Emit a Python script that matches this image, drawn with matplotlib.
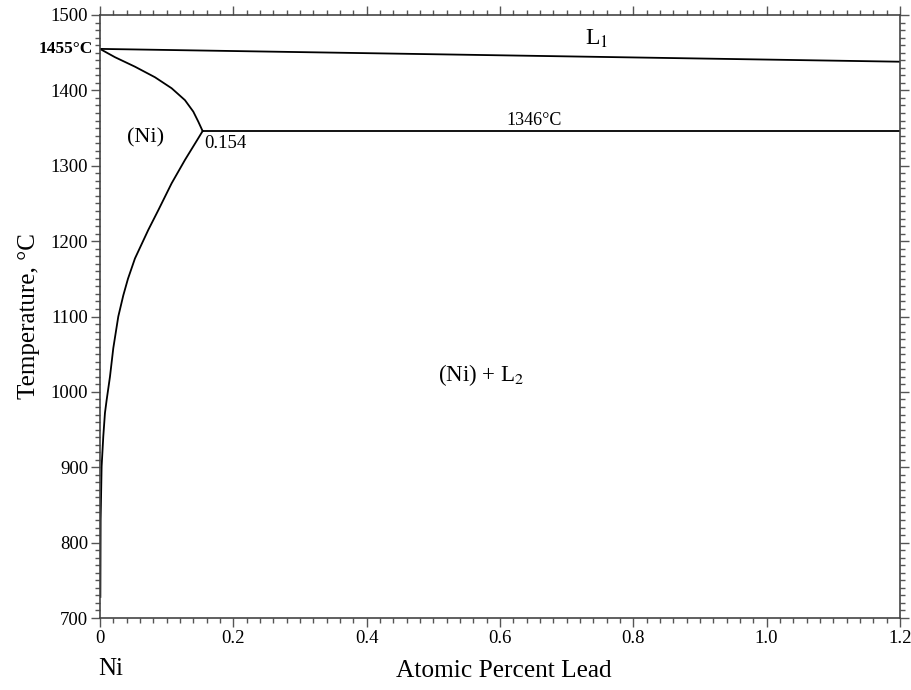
import numpy as np
import matplotlib.pyplot as plt
from matplotlib.ticker import MultipleLocator

plt.rcParams['font.family'] = ['Liberation Serif', 'DejaVu Serif']
plt.rcParams['mathtext.fontset'] = 'stix'

# liquidus L1 (composition in at.% Pb, temperature in C)
liq_x = [0.0, 1.2]
liq_t = [1455, 1438]

# monotectic line
mono_x = [0.154, 1.2]
mono_t = [1346, 1346]

# solidus of (Ni)
sol_x = [0.0, 0.0225, 0.0525, 0.0825, 0.1075, 0.1275, 0.14, 0.1475, 0.154]
sol_t = [1455, 1444, 1431.4, 1417.4, 1402.8, 1387, 1371.8, 1358.5, 1346]

# solvus of (Ni)
solv_x = [0.154, 0.1475, 0.1275, 0.1075, 0.0875, 0.0725, 0.0525, 0.042,
          0.035, 0.0275, 0.02, 0.015, 0.01, 0.0075, 0.005, 0.0025, 0.001,
          0.0006]
solv_t = [1346, 1336.5, 1307.7, 1276.7, 1241, 1214.9, 1177, 1150,
          1128, 1100, 1058, 1020, 989, 972, 941, 901, 830, 728]

fig = plt.figure(figsize=(9.12, 6.9), dpi=100)
ax = fig.add_axes([0.1096, 0.1043, 0.8772, 0.874])

lw = 1.3
ax.plot(liq_x, liq_t, color='black', lw=lw)
ax.plot(mono_x, mono_t, color='black', lw=lw)
ax.plot(sol_x, sol_t, color='black', lw=lw)
ax.plot(solv_x, solv_t, color='black', lw=lw)

ax.set_xlim(0, 1.2)
ax.set_ylim(700, 1500)
ax.xaxis.set_minor_locator(MultipleLocator(0.02))
ax.yaxis.set_major_locator(MultipleLocator(100))
ax.yaxis.set_minor_locator(MultipleLocator(10))
ax.set_xticks([0, 0.2, 0.4, 0.6, 0.8, 1.0, 1.2])
ax.set_xticklabels(['0', '0.2', '0.4', '0.6', '0.8', '1.0', '1.2'])

ax.tick_params(which='both', direction='out', top=True, right=True,
               labelsize=13.5, color='#555555', pad=2)
ax.tick_params(which='major', length=6.5, width=1)
ax.tick_params(which='minor', length=3.5, width=1)
for s in ax.spines.values():
    s.set_color('#444444')
    s.set_linewidth(1.2)

ax.text(-0.01, 1455, '1455°C', ha='right', va='center', fontsize=12.5,
        fontweight='bold')
ax.text(0.745, 1468, r'L$_1$', ha='center', va='center', fontsize=17)
ax.text(0.068, 1337, '(Ni)', ha='center', va='center', fontsize=16)
ax.text(0.156, 1329, '0.154', ha='left', va='center', fontsize=13.5)
ax.text(0.651, 1349, '1346°C', ha='center', va='bottom', fontsize=13)
ax.text(0.572, 1022, r'(Ni) + L$_2$', ha='center', va='center', fontsize=16.5)

ax.set_ylabel('Temperature, °C', fontsize=18, labelpad=8)
fig.text(504 / 912, 1 - 671 / 690, 'Atomic Percent Lead', ha='center',
         va='center', fontsize=18.3)
fig.text(111 / 912, 1 - 669 / 690, 'Ni', ha='center', va='center', fontsize=18)

fig.savefig('out.png', dpi=100)
